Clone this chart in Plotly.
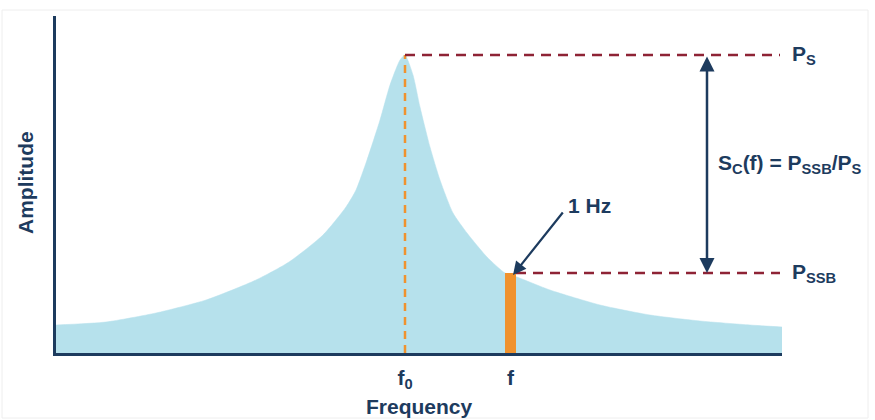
import numpy as np
import plotly.graph_objects as go

# ---- data ----
freq = [56, 106, 156, 206, 256, 289, 323, 346, 356, 367, 380, 390, 400, 405,
        413, 420, 430, 440, 453, 467, 487, 505, 517, 550, 600, 650, 700, 750, 782]
amplitude = [28, 31, 40, 53, 73, 91, 118, 146, 163, 193, 233, 268, 293, 298,
             278, 246, 206, 173, 140, 120, 96, 80, 76, 63, 48, 38, 32, 28, 26]
f0 = 405
f_offset = 510.5
bin_width = 11
tick_vals = [f0, f_offset]
tick_text = ["<b>f<sub>0</sub></b>", "<b>f</b>"]

NAVY = "#1d3b5e"
RED = "#8e2335"
ORANGE = "#f0922e"
FILL = "#b6e1ec"

peak_amp = max(amplitude)
ssb_amp = float(np.interp(f_offset - bin_width / 2, freq, amplitude))
x_min, x_max = min(freq), max(freq)
y_top = 337
ref_end = 780
arrow_x = 707


def px(x):
    return (x - x_min) / (x_max - x_min)


def py(y):
    return y / y_top


fig = go.Figure()
fig.add_trace(go.Scatter(x=freq, y=amplitude, mode="lines", fill="tozeroy",
                         fillcolor=FILL, line=dict(color=FILL, width=0.5, shape="spline", smoothing=0.6),
                         hoverinfo="skip", showlegend=False))
bx0, bx1 = f_offset - bin_width / 2, f_offset + bin_width / 2
fig.add_trace(go.Scatter(x=[bx0, bx0, bx1, bx1, bx0], y=[0, ssb_amp, ssb_amp, 0, 0], mode="lines",
                         fill="toself", fillcolor=ORANGE, line=dict(color=ORANGE, width=0),
                         showlegend=False, hoverinfo="skip"))
fig.add_trace(go.Scatter(x=[f0, f0], y=[0, peak_amp], mode="lines",
                         line=dict(color=ORANGE, width=2.5, dash="8px,6px"), showlegend=False, hoverinfo="skip"))
fig.add_trace(go.Scatter(x=[f0, ref_end], y=[peak_amp, peak_amp], mode="lines",
                         line=dict(color=RED, width=2.5, dash="10px,7px"), showlegend=False, hoverinfo="skip"))
fig.add_trace(go.Scatter(x=[bx1, ref_end], y=[ssb_amp, ssb_amp], mode="lines",
                         line=dict(color=RED, width=2.5, dash="10px,7px"), showlegend=False, hoverinfo="skip"))

fnt = dict(family="Liberation Sans, Arial, sans-serif", color=NAVY)

annotations = [
    # double arrow
    dict(x=arrow_x, y=ssb_amp, ax=arrow_x, ay=peak_amp, xref="x", yref="y", axref="x", ayref="y",
         text="", showarrow=True, arrowhead=2, arrowside="end+start", arrowsize=1.2, arrowwidth=2.5,
         arrowcolor=NAVY, standoff=0, startstandoff=0),
    # 1 Hz arrow
    dict(x=bx1 - 3, y=ssb_amp - 2, ax=564, ay=ssb_amp + 62, xref="x", yref="y", axref="x", ayref="y",
         text="", showarrow=True, arrowhead=2, arrowsize=1.2, arrowwidth=2.2, arrowcolor=NAVY),
    dict(x=566, y=ssb_amp + 68, xref="x", yref="y", text="<b>1 Hz</b>", showarrow=False,
         xanchor="left", yanchor="middle", font=dict(size=21, **fnt)),
    dict(x=px(ref_end + 10), y=py(peak_amp), xref="paper", yref="paper", text="<b>P<sub>S</sub></b>",
         showarrow=False, xanchor="left", yanchor="middle", font=dict(size=21, **fnt)),
    dict(x=px(ref_end + 10), y=py(ssb_amp), xref="paper", yref="paper", text="<b>P<sub>SSB</sub></b>",
         showarrow=False, xanchor="left", yanchor="middle", font=dict(size=21, **fnt)),
    dict(x=px(arrow_x + 9), y=py((peak_amp + ssb_amp) / 2), xref="paper", yref="paper",
         text="<b>S<sub>C</sub>(f) = P<sub>SSB</sub>/P<sub>S</sub></b>", showarrow=False,
         xanchor="left", yanchor="middle", font=dict(size=21, **fnt)),
    dict(x=px(25), y=py(353 - 183), xref="paper", yref="paper", text="<b>Amplitude</b>",
         textangle=-90, showarrow=False, xanchor="center", yanchor="middle", font=dict(size=21, **fnt)),
    dict(x=px(420), y=py(353 - 406), xref="paper", yref="paper", text="<b>Frequency</b>",
         showarrow=False, xanchor="center", yanchor="middle", font=dict(size=21, **fnt)),
]

fig.update_layout(
    width=875, height=420,
    margin=dict(l=56, r=93, t=16, b=67),
    paper_bgcolor="white", plot_bgcolor="white",
    annotations=annotations,
    shapes=[dict(type="rect", xref="paper", yref="paper", x0=px(2), x1=px(868),
                 y0=py(353 - 418), y1=py(353 - 10), line=dict(color="#eeeeee", width=1),
                 layer="below")],
    xaxis=dict(range=[x_min, x_max], showgrid=False, zeroline=False, showline=True, automargin=False,
               linecolor=NAVY, linewidth=2.5, ticks="", tickvals=tick_vals, ticktext=tick_text,
               tickfont=dict(size=21, **fnt), ticklabelstandoff=4),
    yaxis=dict(range=[0, y_top], showgrid=False, zeroline=False, showline=True, automargin=False,
               linecolor=NAVY, linewidth=2.5, ticks="", showticklabels=False),
)

fig.write_html("out.html", config={"displayModeBar": False},
               post_script="document.body.style.margin='0px';")
